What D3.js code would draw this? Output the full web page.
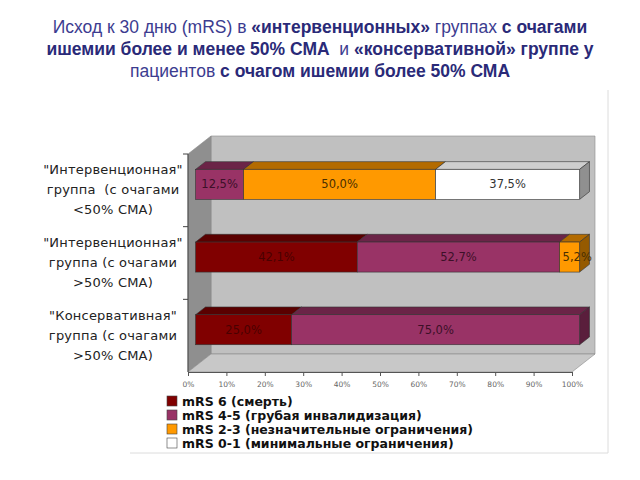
<!DOCTYPE html>
<html>
<head>
<meta charset="utf-8">
<script src="https://cdn.jsdelivr.net/npm/d3@7"></script>
<style>
  body { margin: 0; background: #fff; }
  svg { display: block; }
</style>
</head>
<body>
<div id="vizHolder"></div>
<script>
// data
var categories = ['int_lt50', 'int_gt50', 'cons_gt50'];
var categoryLines = [
  ['"Интервенционная"', 'группа  (с очагами', '<50% СМА)'],
  ['"Интервенционная"', 'группа (с очагами', '>50% СМА)'],
  ['"Консервативная"', 'группа (с очагами', '>50% СМА)']
];
var seriesNames = [
  'mRS 6 (смерть)',
  'mRS 4-5 (грубая инвалидизация)',
  'mRS 2-3 (незначительные ограничения)',
  'mRS 0-1 (минимальные ограничения)'
];
var mrs6   = [0, 42.1, 25.0];
var mrs45  = [12.5, 52.7, 75.0];
var mrs23  = [50.0, 5.2, 0];
var mrs01  = [37.5, 0, 0];
var xTicks = [0, 10, 20, 30, 40, 50, 60, 70, 80, 90, 100];
var titleLines = [
  [['Исход к 30 дню (mRS) в ', 0], ['«интервенционных»', 1], [' группах ', 0], ['с очагами', 1]],
  [['ишемии более и менее 50% СМА ', 1], [' и ', 0], ['«консервативной» группе у', 1]],
  [['пациентов ', 0], ['с очагом ишемии более 50% СМА', 1]]
];

var colors = ['#800000', '#993366', '#ff9900', '#ffffff'];
var labelColors = ['#4a0000', '#3c1028', '#4a2e00', '#333333'];
var series = [mrs6, mrs45, mrs23, mrs01];

var width = 640, height = 480;
var depth = [23, -18],        // full depth of the 3d box
    barFront = 0.33, barBack = 0.76;

var svg = d3.select('#vizHolder').append('svg')
  .attr('width', width).attr('height', height);

/* ----------- title ----------- */
var title = svg.append('g').attr('font-family', 'Liberation Sans, Arial, sans-serif')
  .attr('font-size', 17.5).attr('text-anchor', 'middle');
titleLines.forEach(function(line, i){
  var t = title.append('text').attr('x', 320).attr('y', 33 + i * 22);
  line.forEach(function(seg){
    t.append('tspan')
      .attr('font-weight', seg[1] ? 'bold' : 'normal')
      .attr('fill', seg[1] ? '#2a2a78' : '#3c3c90')
      .style('white-space', 'pre')
      .text(seg[0]);
  });
});

/* ----------- frame ----------- */
svg.append('line').attr('x1', 608).attr('x2', 608).attr('y1', 90).attr('y2', 453)
  .attr('stroke', '#dcdcdc');
svg.append('line').attr('x1', 130).attr('x2', 608).attr('y1', 453).attr('y2', 453)
  .attr('stroke', '#dcdcdc');

/* ----------- scales ----------- */
var x = d3.scaleLinear().domain([0, 100]).range([188, 572]);
var y = d3.scaleBand().domain(categories).range([154, 372])
  .paddingInner(0.587).paddingOuter(0.2935);

function off(f){ return [depth[0] * f, depth[1] * f]; }
function pts(a){ return a.map(function(p){ return p.join(','); }).join(' '); }

var x0 = x(0), x1 = x(100), yt = y.range()[0], yb = y.range()[1];
var D = off(1);

/* ----------- walls ----------- */
var walls = svg.append('g').attr('stroke', '#8a8a8a').attr('stroke-width', 0.6);
walls.append('polygon').attr('fill', '#c0c0c0')
  .attr('points', pts([[x0 + D[0], yt + D[1]], [x1 + D[0], yt + D[1]], [x1 + D[0], yb + D[1]], [x0 + D[0], yb + D[1]]]));
walls.append('polygon').attr('fill', '#8f8f8f')
  .attr('points', pts([[x0, yt], [x0 + D[0], yt + D[1]], [x0 + D[0], yb + D[1]], [x0, yb]]));
walls.append('polygon').attr('fill', '#c8c8c8')
  .attr('points', pts([[x0, yb], [x1, yb], [x1 + D[0], yb + D[1]], [x0 + D[0], yb + D[1]]]));

/* ----------- category axis ----------- */
var catAxis = svg.append('g').attr('stroke', '#444');
categories.forEach(function(c, i){
  var ty = yt + i * y.step();
  catAxis.append('line').attr('x1', x0 - 5).attr('x2', x0).attr('y1', ty).attr('y2', ty);
});
catAxis.append('line').attr('x1', x0).attr('x2', x0).attr('y1', yt).attr('y2', yb);

var catLabels = svg.append('g').attr('font-family', 'DejaVu Sans, Verdana, sans-serif')
  .attr('font-size', 13).attr('fill', '#222').attr('text-anchor', 'middle');
categories.forEach(function(c, i){
  var cy = y(c) + y.bandwidth() / 2;
  categoryLines[i].forEach(function(l, k){
    catLabels.append('text').attr('x', 113).attr('y', cy - 16 + k * 20)
      .style('white-space', 'pre').style('letter-spacing', '0.2px').text(l);
  });
});

/* ----------- bars ----------- */
var fo = off(barFront), bo = off(barBack);
var bdx = bo[0] - fo[0], bdy = bo[1] - fo[1];
var bars = svg.append('g');
categories.forEach(function(c, i){
  var acc = 0;
  var top = y(c) + fo[1], bot = y(c) + y.bandwidth() + fo[1];
  var segs = [];
  series.forEach(function(s, k){
    if (s[i] > 0) segs.push({k: k, a: acc, b: acc + s[i], v: s[i]});
    acc += s[i];
  });
  segs.forEach(function(sg, n){
    var xa = x(sg.a) + fo[0], xb = x(sg.b) + fo[0];
    var col = d3.color(colors[sg.k]);
    var g = bars.append('g').attr('stroke', '#333').attr('stroke-width', 0.6);
    g.append('polygon').attr('fill', col.darker(sg.k === 3 ? 0.6 : 1).formatHex())
      .attr('points', pts([[xa, top], [xb, top], [xb + bdx, top + bdy], [xa + bdx, top + bdy]]));
    if (n === segs.length - 1) {
      g.append('polygon').attr('fill', col.darker(sg.k === 3 ? 1.6 : 1.5).formatHex())
        .attr('points', pts([[xb, top], [xb + bdx, top + bdy], [xb + bdx, bot + bdy], [xb, bot]]));
    }
    g.append('rect').attr('x', xa).attr('y', top).attr('width', xb - xa).attr('height', bot - top)
      .attr('fill', colors[sg.k]);
    sg.xa = xa; sg.xb = xb;
  });
  segs.forEach(function(sg){
    var t = bars.append('text')
      .attr('y', (top + bot) / 2 + 4)
      .attr('text-anchor', 'middle')
      .attr('font-family', 'DejaVu Sans, Verdana, sans-serif').attr('font-size', 11.5)
      .attr('fill', labelColors[sg.k])
      .text(d3.format('.1f')(sg.v).replace('.', ',') + '%');
    var w = t.node().getComputedTextLength();
    // narrow segments: keep the label starting inside the segment
    t.attr('x', Math.max((sg.xa + sg.xb) / 2, sg.xa + w / 2 + 3));
  });
});

/* ----------- x axis ----------- */
var xAxis = svg.append('g').attr('transform', 'translate(0,' + yb + ')')
  .call(d3.axisBottom(x).tickValues(xTicks).tickSize(4).tickFormat(function(d){ return d + '%'; }));
xAxis.select('.domain').attr('stroke', '#555');
xAxis.selectAll('.tick line').attr('stroke', '#555');
xAxis.selectAll('text').attr('font-family', 'DejaVu Sans, Verdana, sans-serif')
  .attr('font-size', 7.5).attr('fill', '#666').attr('dy', '1.1em');

/* ----------- legend ----------- */
svg.append('clipPath').attr('id', 'legClip')
  .append('rect').attr('x', 0).attr('y', 0).attr('width', 640).attr('height', 452);
var legend = svg.append('g').attr('clip-path', 'url(#legClip)');
seriesNames.forEach(function(n, k){
  var ly = 406 + k * 14;
  legend.append('rect').attr('x', 167).attr('y', ly - 10).attr('width', 10).attr('height', 10)
    .attr('fill', colors[k]).attr('stroke', '#444').attr('stroke-width', 0.6);
  legend.append('text').attr('x', 182).attr('y', ly)
    .attr('font-family', 'DejaVu Sans, Verdana, sans-serif').attr('font-weight', 'bold')
    .attr('font-size', 12.5).attr('fill', '#111')
    .text(n);
});
</script>
</body>
</html>
